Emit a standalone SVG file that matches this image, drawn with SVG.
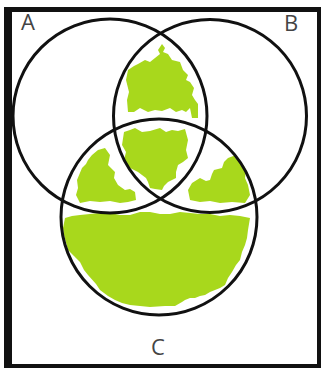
<svg xmlns="http://www.w3.org/2000/svg" width="322" height="369" viewBox="0 0 322 369">
<style>
.ring{fill:none;stroke:#111;stroke-width:3}
.fill{fill:#a8d81c;stroke:none}
.lbl{font-family:"Open Sans","Liberation Sans",sans-serif;font-size:22px;fill:#444}
</style>
<rect x="0" y="0" width="322" height="369" fill="#fff"/>
<g id="frame">
<rect x="4" y="7" width="317" height="361" fill="#111"/>
<rect x="12" y="12" width="305" height="352" fill="#fff"/>
</g>
<g id="shading">
<polygon class="fill" points="162,44 165,48 163,52 168,54 172,60 180,62 183,70 188,75 186,80 190,82 194,88 192,95 195,100 198,104 198,118 192,118 190,108 186,112 182,110 176,112 170,108 162,111 155,110 148,112 140,108 134,112 128,112 127,100 129,92 126,80 128,70 134,66 138,64 145,60 150,62 155,58 160,54 158,50"/>
<polygon class="fill" points="124,132 130,130 135,128 142,132 150,131 160,128 166,132 172,130 178,131 185,129 188,140 186,150 188,158 183,162 178,165 176,172 176,178 168,182 164,186 162,190 155,189 150,188 148,182 146,178 138,172 134,170 130,168 124,160 126,152 122,145"/>
<polygon class="fill" points="98,150 105,148 110,155 108,165 115,172 114,178 118,185 125,190 130,189 135,192 136,200 128,202 120,203 110,201 100,202 90,201 80,203 76,195 78,188 77,180 82,168 86,164 88,160 92,155"/>
<polygon class="fill" points="192,183 200,178 206,181 210,180 212,174 214,170 222,168 224,162 228,158 236,155 238,160 240,162 244,166 246,170 245,178 248,185 250,195 245,203 232,202 220,203 210,201 200,202 190,200 188,190"/>
<polygon class="fill" points="65,218 63,228 64,235 68,250 74,256 80,262 84,270 88,275 96,284 100,290 108,296 115,300 122,303 130,305 140,306 150,307 165,306 175,306 182,302 185,300 190,298 195,298 200,296 205,295 210,292 215,290 220,288 225,285 228,278 232,272 236,265 240,260 242,252 245,245 247,238 248,230 250,218 240,216 230,215 220,216 210,214 200,214 190,213 180,212 170,214 160,214 150,212 140,212 130,215 120,215 110,213 100,213 90,214 80,215 72,216"/>
</g>
<g id="circle-A"><circle class="ring" cx="110" cy="116" r="97"/></g>
<g id="circle-B"><circle class="ring" cx="210" cy="116" r="96.5"/></g>
<g id="circle-C"><circle class="ring" cx="159" cy="217" r="98"/></g>
<g id="label-A"><text class="lbl" x="21" y="30">A</text></g>
<g id="label-B"><text class="lbl" x="284" y="31">B</text></g>
<g id="label-C"><text class="lbl" x="151" y="355">C</text></g>
</svg>
